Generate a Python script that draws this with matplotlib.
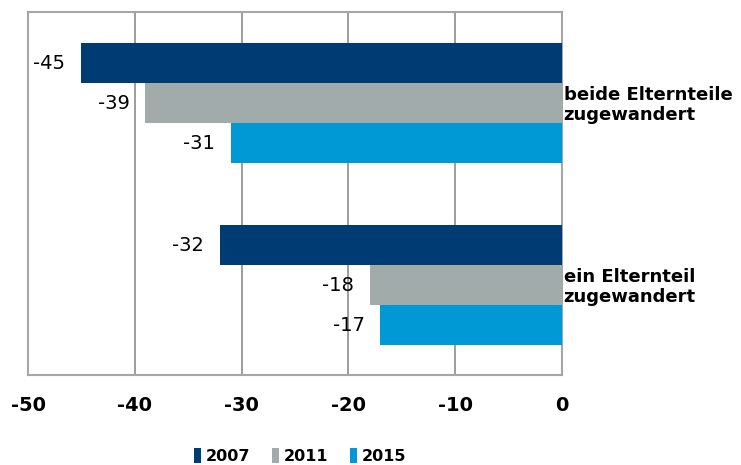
import matplotlib.pyplot as plt
import numpy as np

# data
categories = ["beide Elternteile\nzugewandert", "ein Elternteil\nzugewandert"]
years = ["2007", "2011", "2015"]
values_2007 = [-45, -32]
values_2011 = [-39, -18]
values_2015 = [-31, -17]
colors = ["#003c74", "#a0abaa", "#0099d6"]

plt.rcParams["font.family"] = "DejaVu Sans"

fig = plt.figure(figsize=(7.41, 4.65), dpi=100)
ax = fig.add_axes([28 / 741, 1 - 375 / 465, (562 - 28) / 741, (375 - 12) / 465])

group_gap = 4.55
base = np.arange(len(categories)) * group_gap
series = [values_2007, values_2011, values_2015]
for i, (vals, col, yr) in enumerate(zip(series, colors, years)):
    pos = base + (i - 1)
    bars = ax.barh(pos, vals, height=1.0, color=col, label=yr, zorder=3)
    for b, v in zip(bars, vals):
        ax.text(v - 1.5, b.get_y() + b.get_height() / 2, str(v),
                ha="right", va="center", fontsize=14, color="black", zorder=4)

for y, cat in zip(base, categories):
    ax.text(0.15, y + 0.05, cat, ha="left", va="center", fontsize=13,
            fontweight="bold", linespacing=1.15, clip_on=False)

ax.set_xlim(-50, 0)
ax.set_ylim(base[-1] + 2.25, -2.275)
ax.set_xticks(np.arange(-50, 1, 10))
ax.set_xticklabels([str(t) for t in range(-50, 1, 10)], fontsize=14, fontweight="bold")
ax.set_yticks([])
ax.tick_params(axis="x", length=0, pad=15)
ax.grid(axis="x", color="#8c8c8c", linewidth=1.2, zorder=0)
for s in ax.spines.values():
    s.set_color("#a6a6a6")
    s.set_linewidth(1.5)

leg = fig.legend(loc="center", bbox_to_anchor=(300 / 741, 1 - 456 / 465), ncol=3,
                 frameon=False, prop={"weight": "bold", "size": 11.5},
                 handlelength=0.45, handleheight=1.1, handletextpad=0.25,
                 columnspacing=1.4, borderpad=0.1)

fig.savefig("out.png", dpi=100)
